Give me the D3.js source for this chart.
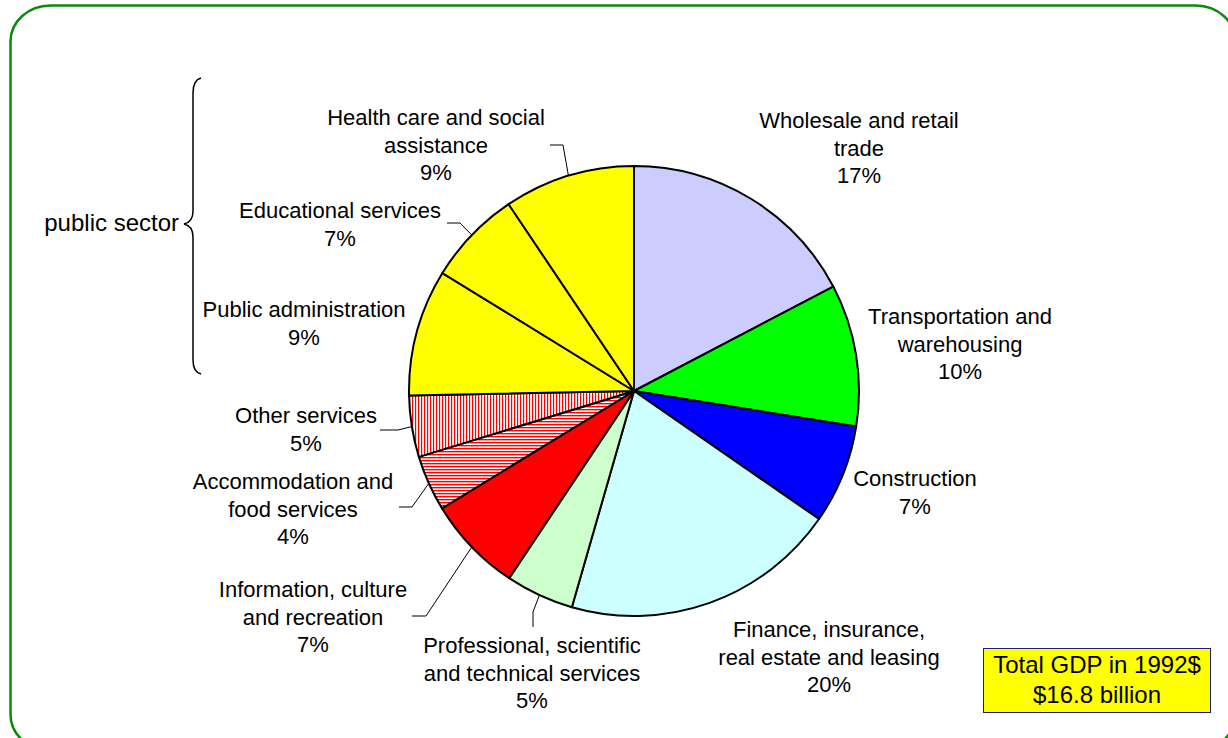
<!DOCTYPE html>
<html>
<head>
<meta charset="utf-8">
<script src="https://cdn.jsdelivr.net/npm/d3@7"></script>
<style>
  html, body { margin: 0; padding: 0; background: #ffffff; }
  svg { display: block; font-family: 'Liberation Sans', Arial, sans-serif; }
</style>
</head>
<body>
<div id="chart"></div>
<script>
// industries, clockwise from 12 o'clock
const industries = [
  ['Wholesale and retail', 'trade'],
  ['Transportation and', 'warehousing'],
  ['Construction'],
  ['Finance, insurance,', 'real estate and leasing'],
  ['Professional, scientific', 'and technical services'],
  ['Information, culture', 'and recreation'],
  ['Accommodation and', 'food services'],
  ['Other services'],
  ['Public administration'],
  ['Educational services'],
  ['Health care and social', 'assistance'],
];
// share of GDP (%)
const shares = [17.3, 10.2, 7.1, 19.8, 4.9, 6.9, 4.0, 4.4, 9.1, 6.8, 9.4];
// printed percentage labels
const pctLabels = ['17%', '10%', '7%', '20%', '5%', '7%', '4%', '5%', '9%', '7%', '9%'];
const fills = [
  '#ccccff', '#00ff00', '#0000ff', '#ccffff', '#ccffcc', '#ff0000',
  'url(#hatchH)', 'url(#hatchV)', '#ffff00', '#ffff00', '#ffff00',
];
const totalLines = ['Total GDP in 1992$', '$16.8 billion'];
const bracketLabel = 'public sector';

// layout: label centre (first line) and leader elbow points
const labelLayout = [
  { x: 859, y: 120 },
  { x: 960, y: 316 },
  { x: 915, y: 478 },
  { x: 829, y: 629 },
  { x: 532, y: 645 },
  { x: 313, y: 589 },
  { x: 293, y: 481 },
  { x: 306, y: 415 },
  { x: 304, y: 309 },
  { x: 340, y: 210 },
  { x: 436, y: 117 },
];
const leaderLayout = [
  null, null, null, null,
  [[533, 627], [533, 612]],
  [[412, 616], [426, 616]],
  [[399, 507], [412, 507]],
  [[380, 430], [398, 430]],
  null,
  [[447, 223], [460, 223]],
  [[550, 145], [563, 145]],
];

const W = 1228, H = 738;
const cx = 634, cy = 391, R = 225;
const fontSize = 22, lineH = 27.5;

const svg = d3.select('#chart').append('svg')
  .attr('width', W)
  .attr('height', H);

const defs = svg.append('defs');
const hv = defs.append('pattern')
  .attr('id', 'hatchV')
  .attr('patternUnits', 'userSpaceOnUse')
  .attr('width', 3).attr('height', 3);
hv.append('rect').attr('width', 3).attr('height', 3).attr('fill', '#ffffff');
hv.append('rect').attr('width', 1.2).attr('height', 3).attr('fill', '#ff0000');
const hh = defs.append('pattern')
  .attr('id', 'hatchH')
  .attr('patternUnits', 'userSpaceOnUse')
  .attr('width', 3).attr('height', 3);
hh.append('rect').attr('width', 3).attr('height', 3).attr('fill', '#ffffff');
hh.append('rect').attr('width', 3).attr('height', 1.4).attr('fill', '#ff0000');

// green rounded frame (runs off the right and bottom edge)
svg.append('rect')
  .attr('x', 10.5).attr('y', 5.5)
  .attr('width', 1225).attr('height', 745)
  .attr('rx', 40).attr('ry', 36)
  .attr('fill', 'none')
  .attr('stroke', '#0a8a0a')
  .attr('stroke-width', 2.5);

const pie = d3.pie().sort(null).value(function (d) { return d; });
const arcs = pie(shares);
const arc = d3.arc().innerRadius(0).outerRadius(R);
const edge = d3.arc().innerRadius(R).outerRadius(R);

const g = svg.append('g').attr('transform', 'translate(' + cx + ',' + cy + ')');
g.selectAll('path.slice')
  .data(arcs)
  .enter()
  .append('path')
  .attr('class', 'slice')
  .attr('d', arc)
  .attr('fill', function (d, i) { return fills[i]; })
  .attr('stroke', '#000000')
  .attr('stroke-width', 2)
  .attr('stroke-linejoin', 'round');

// leader lines from label to the middle of the slice's rim
const line = d3.line();
svg.selectAll('path.leader')
  .data(arcs.filter(function (d, i) { return leaderLayout[i]; }))
  .enter()
  .append('path')
  .attr('class', 'leader')
  .attr('d', function (d) {
    const pts = leaderLayout[d.index].slice();
    const c = edge.centroid(d);
    pts.push([cx + c[0], cy + c[1]]);
    return line(pts);
  })
  .attr('fill', 'none')
  .attr('stroke', '#000000')
  .attr('stroke-width', 1);

// slice labels
const labels = svg.selectAll('text.lbl')
  .data(industries)
  .enter()
  .append('text')
  .attr('class', 'lbl')
  .attr('text-anchor', 'middle')
  .attr('font-size', fontSize)
  .attr('fill', '#000000');
labels.each(function (lines, i) {
  const t = d3.select(this);
  const all = lines.concat([pctLabels[i]]);
  all.forEach(function (s, k) {
    t.append('tspan')
      .attr('x', labelLayout[i].x)
      .attr('y', labelLayout[i].y + 8 + k * lineH)
      .text(s);
  });
});

// public sector bracket
svg.append('path')
  .attr('d', 'M201,78 Q193,80 193,93 L193,211 Q193,222 184,224 Q193,226 193,237 L193,360 Q193,372 201,374')
  .attr('fill', 'none')
  .attr('stroke', '#000000')
  .attr('stroke-width', 1.5);
svg.append('text')
  .attr('x', 179)
  .attr('y', 231)
  .attr('text-anchor', 'end')
  .attr('font-size', 24)
  .text(bracketLabel);

// total box
svg.append('rect')
  .attr('x', 983.5).attr('y', 648.5)
  .attr('width', 227).attr('height', 64)
  .attr('fill', '#ffff00')
  .attr('stroke', '#1a1a8c')
  .attr('stroke-width', 1);
svg.append('text')
  .attr('text-anchor', 'middle')
  .attr('font-size', 24)
  .selectAll('tspan')
  .data(totalLines)
  .enter()
  .append('tspan')
  .attr('x', 1097)
  .attr('y', function (d, i) { return 673 + i * 30; })
  .text(function (d) { return d; });
</script>
</body>
</html>
